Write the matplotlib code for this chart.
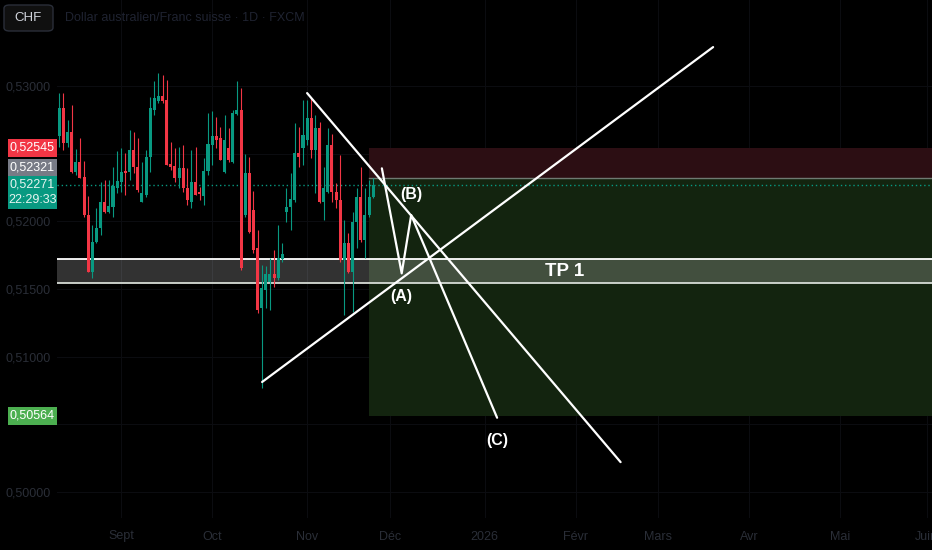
import numpy as np
import pandas as pd
import matplotlib
matplotlib.use("Agg")
import matplotlib.pyplot as plt
from matplotlib.patches import Rectangle, FancyBboxPatch
from matplotlib import transforms

# AUD/CHF daily candles (FXCM), first bar on 11 Aug 2025
opens = [0.52630, 0.52837, 0.52579, 0.52660, 0.52364, 0.52438, 0.52327, 0.52047, 0.51625, 0.51847,
         0.51951, 0.52143, 0.52069, 0.52106, 0.52246, 0.52291, 0.52372, 0.52364, 0.52527, 0.52401,
         0.52143, 0.52194, 0.52475, 0.52823, 0.52889, 0.52926, 0.52897, 0.52424, 0.52409, 0.52320,
         0.52394, 0.52246, 0.52143, 0.52291, 0.52217, 0.52187, 0.52372, 0.52564, 0.52630, 0.52616,
         0.52364, 0.52542, 0.52438, 0.52793, 0.52823, 0.52047, 0.52357, 0.52084, 0.51803, 0.51359,
         0.51492, 0.51552, 0.51611, 0.51581, 0.51721, 0.52069, 0.52106, 0.52158, 0.52505, 0.52542,
         0.52601, 0.52764, 0.52527, 0.52690, 0.52143, 0.52217, 0.52564, 0.52217, 0.52158, 0.51714,
         0.51840, 0.51625, 0.51995, 0.52180, 0.51862, 0.52047, 0.52180]
highs = [0.52948, 0.52948, 0.52749, 0.52860, 0.52534, 0.52616, 0.52446, 0.52187, 0.51973, 0.52098,
         0.52291, 0.52305, 0.52305, 0.52401, 0.52520, 0.52542, 0.52505, 0.52675, 0.52660, 0.52616,
         0.52438, 0.52527, 0.52919, 0.53037, 0.53096, 0.53081, 0.53044, 0.52586, 0.52542, 0.52549,
         0.52564, 0.52394, 0.52527, 0.52549, 0.52254, 0.52468, 0.52800, 0.52815, 0.52771, 0.52697,
         0.52786, 0.52690, 0.52823, 0.53037, 0.52985, 0.52497, 0.52475, 0.52224, 0.51936, 0.51677,
         0.51670, 0.51729, 0.51788, 0.51973, 0.51840, 0.52246, 0.52357, 0.52727, 0.52697, 0.52897,
         0.52897, 0.52911, 0.52786, 0.52734, 0.52401, 0.52690, 0.52645, 0.52283, 0.52490, 0.52010,
         0.51914, 0.52069, 0.52246, 0.52401, 0.52246, 0.52305, 0.52320]
lows = [0.52549, 0.52527, 0.52549, 0.52357, 0.52342, 0.52320, 0.52032, 0.51625, 0.51581, 0.51840,
        0.51899, 0.52061, 0.52061, 0.52032, 0.52209, 0.52217, 0.52194, 0.52305, 0.52357, 0.52217,
        0.52143, 0.52180, 0.52364, 0.52786, 0.52874, 0.52874, 0.52416, 0.52379, 0.52291, 0.52246,
        0.52217, 0.52121, 0.52098, 0.52194, 0.52158, 0.52121, 0.52342, 0.52416, 0.52542, 0.52453,
        0.52357, 0.52438, 0.52431, 0.52786, 0.51640, 0.52032, 0.51914, 0.51766, 0.51322, 0.50768,
        0.51359, 0.51345, 0.51515, 0.51566, 0.51699, 0.51995, 0.51936, 0.52143, 0.52401, 0.52416,
        0.52564, 0.52468, 0.52209, 0.52135, 0.52010, 0.52209, 0.52143, 0.52098, 0.51699, 0.51308,
        0.51618, 0.51330, 0.51803, 0.51847, 0.51729, 0.52032, 0.52172]
closes = [0.52837, 0.52579, 0.52660, 0.52364, 0.52438, 0.52320, 0.52047, 0.51625, 0.51847, 0.51951,
          0.52143, 0.52069, 0.52113, 0.52261, 0.52298, 0.52364, 0.52357, 0.52527, 0.52401, 0.52231,
          0.52209, 0.52475, 0.52837, 0.52911, 0.52926, 0.52889, 0.52416, 0.52401, 0.52320, 0.52394,
          0.52246, 0.52158, 0.52291, 0.52194, 0.52202, 0.52372, 0.52571, 0.52630, 0.52601, 0.52453,
          0.52601, 0.52453, 0.52800, 0.52823, 0.51655, 0.52357, 0.51921, 0.51788, 0.51345, 0.51507,
          0.51611, 0.51611, 0.51581, 0.51729, 0.51758, 0.52106, 0.52165, 0.52505, 0.52475, 0.52638,
          0.52764, 0.52527, 0.52690, 0.52143, 0.52246, 0.52564, 0.52217, 0.52158, 0.51714, 0.51840,
          0.51625, 0.51995, 0.52180, 0.51862, 0.52047, 0.52180, 0.52271]

first_day = "2025-08-11"
last_day = "2026-06-30"
month_labels = ["Sept", "Oct", "Nov", "Déc", "2026", "Févr", "Mars", "Avr", "Mai", "Juin"]
price_ticks = [0.530, 0.525, 0.520, 0.515, 0.510, 0.505, 0.500]
price_tick_labels = ["0,53000", "", "0,52000", "0,51500", "0,51000", "", "0,50000"]

# short position tool
pos_start_bar = 75
stop_price = 0.52545
entry_price = 0.52321
target_price = 0.50564
last_price = 0.52271
countdown = "22:29:33"

# TP 1 zone
tp_low, tp_high = 0.51541, 0.51725

# hand drawn lines (bar index, price)
down_line = [(60.0, 0.52948), (135.9, 0.50221)]
up_line = [(49.1, 0.50813), (158.3, 0.53288)]
wave = [(78.1, 0.52392), (82.9, 0.51616), (85.2, 0.52047), (106.0, 0.50549)]
wave_labels = [("(A)", 82.7, 0.51448), ("(B)", 85.2, 0.52202), ("(C)", 106.0, 0.50384)]

UP = "#089981"
DOWN = "#f23645"
DIM = "#2a2e37"
FONT = ["Liberation Sans", "DejaVu Sans"]

o = np.array(opens); h = np.array(highs); l = np.array(lows); c = np.array(closes)
x = np.arange(len(o))
all_days = pd.bdate_range(first_day, last_day)
month_starts = pd.date_range("2025-09-01", "2026-06-01", freq="MS")
month_pos = all_days.searchsorted(month_starts)

W, H = 932, 550
fig = plt.figure(figsize=(W / 100, H / 100), dpi=100, facecolor="black")
ax = fig.add_axes([57 / W, 32 / H, 875 / W, 518 / H])
ax.set_facecolor("black")
ax.set_xlim(-0.56, 211.3)
ax.set_ylim(0.49808, 0.53636)
for s in ax.spines.values():
    s.set_visible(False)

ax.set_yticks(price_ticks)
ax.set_yticklabels(price_tick_labels, family=FONT, fontsize=9, color=DIM)
ax.set_xticks(month_pos)
ax.set_xticklabels(month_labels, family=FONT, fontsize=9, color=DIM)
ax.tick_params(axis="y", length=0, pad=4.5)
ax.tick_params(axis="x", length=0, pad=9)
ax.grid(True, color="#0b0c10", lw=0.8)
ax.set_axisbelow(True)

# candles
cols = np.where(c >= o, UP, DOWN)
ax.vlines(x, l, h, colors=cols, lw=0.8, zorder=3)
body = np.maximum(np.abs(c - o), 0.00008)
ax.bar(x, body, bottom=np.minimum(o, c), width=0.74, color=cols, lw=0, zorder=3)

# position tool
x_end = ax.get_xlim()[1]
ax.add_patch(Rectangle((pos_start_bar, entry_price), x_end - pos_start_bar, stop_price - entry_price,
                       facecolor="#2c0e13", edgecolor="none", zorder=1))
ax.add_patch(Rectangle((pos_start_bar, target_price), x_end - pos_start_bar, entry_price - target_price,
                       facecolor="#13240f", edgecolor="none", zorder=1))
ax.plot([pos_start_bar, x_end], [entry_price, entry_price], color="#6f7a72", lw=1, zorder=1.5)

# TP zone
x0 = ax.get_xlim()[0]
ax.add_patch(Rectangle((x0, tp_low), x_end - x0, tp_high - tp_low,
                       facecolor="white", alpha=0.2, edgecolor="none", zorder=2))
ax.axhline(tp_high, color="white", lw=1.3, zorder=2.5)
ax.axhline(tp_low, color="#d6dcd6", lw=1.3, zorder=2.5)
ax.text((x0 + x_end) / 2 + 17, (tp_low + tp_high) / 2, "TP 1", color="white", fontsize=13.5,
        fontweight="bold", family=FONT, ha="center", va="center", zorder=5)

# last price line
ax.axhline(last_price, color=UP, lw=1, ls=(0, (1, 2)), zorder=2.6)

# drawings
for line in (down_line, up_line, wave):
    xs, ys = zip(*line)
    ax.plot(xs, ys, color="white", lw=1.6, solid_capstyle="round", zorder=4)
for txt, bx, by in wave_labels:
    ax.text(bx, by, txt, color="white", fontsize=11.5, fontweight="bold", family=FONT,
            ha="center", va="center", zorder=5)

# price labels on the left scale
px_per_price = (518 / (ax.get_ylim()[1] - ax.get_ylim()[0]))
lab_tr = transforms.blended_transform_factory(fig.transFigure, ax.transData)


def price_label(price, text, face, txt_color="white", shift_px=0, height_px=18, extra=None):
    yc = price + shift_px / px_per_price
    hh = height_px / 2 / px_per_price
    top_extra = 0 if extra is None else 15 / px_per_price
    fig.patches.append(Rectangle((8 / W, yc - hh - top_extra), 49 / W, 2 * hh + top_extra,
                                 transform=lab_tr, facecolor=face, edgecolor="none", zorder=10))
    fig.text(32.5 / W, yc, text, transform=lab_tr, color=txt_color, fontsize=9,
             family=FONT, ha="center", va="center", zorder=11)
    if extra is not None:
        fig.text(32.5 / W, yc - 15 / px_per_price, extra, transform=lab_tr, color=txt_color,
                 fontsize=9, family=FONT, ha="center", va="center", zorder=11)


price_label(stop_price, "0,52545", DOWN)
price_label(entry_price, "0,52321", "#787b86", shift_px=10)
price_label(last_price, "0,52271", UP, txt_color="#e8f5f1", extra=countdown)
price_label(target_price, "0,50564", "#4caf50")

# symbol button and title
fig.patches.append(FancyBboxPatch((4 / W, 1 - 31 / H), 49 / W, 26 / H,
                                  boxstyle="round,pad=0,rounding_size=0.006",
                                  transform=fig.transFigure, facecolor="#101010",
                                  edgecolor="#2a2e39", lw=1, zorder=10))
fig.text(28 / W, 1 - 18 / H, "CHF", color="#d1d4dc", fontsize=9.5, family=FONT,
         ha="center", va="center", zorder=11)
fig.text(65 / W, 1 - 18 / H, "Dollar australien/Franc suisse · 1D · FXCM", color="#1f2331",
         fontsize=9, family=FONT, ha="left", va="center")

fig.savefig("out.png", dpi=100, facecolor="black")
